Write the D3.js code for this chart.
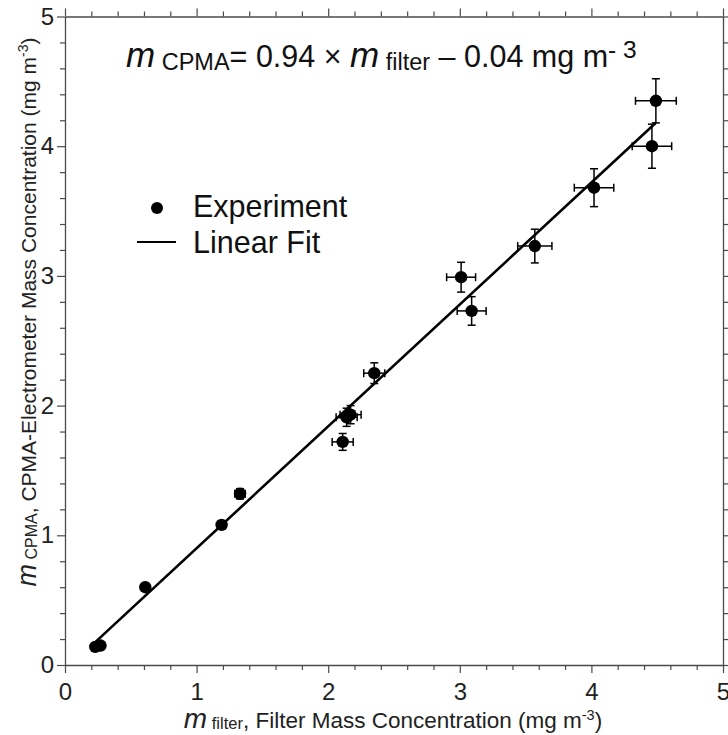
<!DOCTYPE html>
<html>
<head>
<meta charset="utf-8">
<script src="https://cdn.jsdelivr.net/npm/d3@7"></script>
<style>
  body { margin: 0; background: #fff; }
  svg { display: block; font-family: "Liberation Sans", Arial, sans-serif; }
</style>
</head>
<body>
<div id="chart"></div>
<script>
const xFilter = [0.23, 0.27, 0.61, 1.19, 1.33, 2.11, 2.14, 2.17, 2.35, 3.01, 3.09, 3.57, 4.02, 4.46, 4.49];
const yCpma   = [0.14, 0.15, 0.60, 1.08, 1.32, 1.72, 1.91, 1.93, 2.25, 2.99, 2.73, 3.23, 3.68, 4.00, 4.35];
const xErr    = [0.01, 0.01, 0.02, 0.03, 0.04, 0.08, 0.08, 0.08, 0.08, 0.11, 0.11, 0.13, 0.15, 0.15, 0.155];
const yErr    = [0.01, 0.01, 0.02, 0.03, 0.04, 0.065, 0.07, 0.07, 0.08, 0.115, 0.11, 0.13, 0.146, 0.17, 0.17];

// linear fit
const fitSlope = 0.94;
const fitIntercept = -0.04;
const fitRange = [0.23, 4.49];

const majorTicks = [0, 1, 2, 3, 4, 5];

const W = 728, H = 735;
const plot = { left: 65, right: 723, top: 16.5, bottom: 665 };
const axisColor = "#4a4a4a";
const textColor = "#222";

const x = d3.scaleLinear().domain([0, 5]).range([plot.left, plot.right]);
const y = d3.scaleLinear().domain([0, 5]).range([plot.bottom, plot.top]);

const svg = d3.select("#chart").append("svg")
    .attr("width", W)
    .attr("height", H);

const minorTicks = d3.range(0, 5.001, 0.2).filter(v => Math.abs(v - Math.round(v)) > 1e-6);

// axes: bottom & left labelled, top & right ticks only
function frameAxis(axisGen, transform, labels) {
  const g = svg.append("g").attr("transform", transform);
  g.call(axisGen.tickValues(majorTicks).tickSize(8).tickSizeOuter(0).tickFormat(labels ? d3.format("d") : ""));
  g.select(".domain").attr("stroke", axisColor).attr("stroke-width", 1.3);
  g.selectAll(".tick line").attr("stroke", axisColor).attr("stroke-width", 1.2);
  g.selectAll(".tick text").attr("fill", textColor).style("font-size", "24px");
  return g;
}
function minorAxis(axisGen, transform) {
  const g = svg.append("g").attr("transform", transform);
  g.call(axisGen.tickValues(minorTicks).tickSize(5).tickSizeOuter(0).tickFormat(""));
  g.select(".domain").remove();
  g.selectAll(".tick line").attr("stroke", axisColor).attr("stroke-width", 1.2);
}

const xb = frameAxis(d3.axisBottom(x), `translate(0,${plot.bottom})`, true);
xb.selectAll(".tick text").attr("dy", "0.98em");
minorAxis(d3.axisBottom(x), `translate(0,${plot.bottom})`);
frameAxis(d3.axisLeft(y), `translate(${plot.left},0)`, true);
minorAxis(d3.axisLeft(y), `translate(${plot.left},0)`);
frameAxis(d3.axisTop(x), `translate(0,${plot.top})`, false);
minorAxis(d3.axisTop(x), `translate(0,${plot.top})`);
frameAxis(d3.axisRight(y), `translate(${plot.right},0)`, false);
minorAxis(d3.axisRight(y), `translate(${plot.right},0)`);

// fit line
const fitLine = d3.line().x(d => x(d)).y(d => y(fitSlope * d + fitIntercept));
svg.append("path")
    .attr("d", fitLine(fitRange))
    .attr("fill", "none")
    .attr("stroke", "#000")
    .attr("stroke-width", 2.6);

// error bars
const pts = xFilter.map((v, i) => ({ x: v, y: yCpma[i], ex: xErr[i], ey: yErr[i] }));
const cap = 4;
const eb = svg.append("g").attr("stroke", "#000").attr("stroke-width", 1.5);
pts.forEach(p => {
  const cx = x(p.x), cy = y(p.y);
  const x0 = x(p.x - p.ex), x1 = x(p.x + p.ex);
  const y0 = y(p.y - p.ey), y1 = y(p.y + p.ey);
  eb.append("line").attr("x1", x0).attr("x2", x1).attr("y1", cy).attr("y2", cy);
  eb.append("line").attr("x1", x0).attr("x2", x0).attr("y1", cy - cap).attr("y2", cy + cap);
  eb.append("line").attr("x1", x1).attr("x2", x1).attr("y1", cy - cap).attr("y2", cy + cap);
  eb.append("line").attr("x1", cx).attr("x2", cx).attr("y1", y0).attr("y2", y1);
  eb.append("line").attr("x1", cx - cap).attr("x2", cx + cap).attr("y1", y0).attr("y2", y0);
  eb.append("line").attr("x1", cx - cap).attr("x2", cx + cap).attr("y1", y1).attr("y2", y1);
});

// points
svg.append("g").selectAll("circle")
  .data(pts)
  .enter().append("circle")
    .attr("cx", d => x(d.x))
    .attr("cy", d => y(d.y))
    .attr("r", 6.2)
    .attr("fill", "#000");

// equation
const eq = svg.append("text")
    .attr("x", 126).attr("y", 67)
    .attr("fill", "#111")
    .style("font-size", "30.5px");
eq.append("tspan").style("font-style", "italic").style("font-size", "35px").text("m");
eq.append("tspan").style("font-size", "23.5px").attr("dy", 3).text(" CPMA");
eq.append("tspan").attr("dy", -3).text("= 0.94 × ");
eq.append("tspan").style("font-style", "italic").style("font-size", "35px").text("m");
eq.append("tspan").style("font-size", "23.5px").attr("dy", 3).text(" filter");
eq.append("tspan").attr("dy", -3).text(" – 0.04 mg m");
eq.append("tspan").style("font-size", "24.5px").attr("dy", -9).text("- 3");

// legend
const lg = svg.append("g");
lg.append("circle").attr("cx", 157).attr("cy", 208).attr("r", 6).attr("fill", "#000");
lg.append("text").attr("x", 193).attr("y", 217).attr("fill", "#111").style("font-size", "30.5px").text("Experiment");
lg.append("line").attr("x1", 137).attr("x2", 176).attr("y1", 242).attr("y2", 242)
    .attr("stroke", "#000").attr("stroke-width", 2);
lg.append("text").attr("x", 193).attr("y", 253).attr("fill", "#111").style("font-size", "30.5px").text("Linear Fit");

// x axis title
const xt = svg.append("text")
    .attr("x", 393).attr("y", 728)
    .attr("text-anchor", "middle")
    .attr("fill", textColor)
    .style("font-size", "22.5px");
xt.append("tspan").style("font-style", "italic").style("font-size", "28px").text("m");
xt.append("tspan").style("font-size", "16.5px").attr("dy", 1).text(" filter");
xt.append("tspan").attr("dy", -1).text(", Filter Mass Concentration (mg m");
xt.append("tspan").style("font-size", "14.5px").attr("dy", -8).text("-3");
xt.append("tspan").attr("dy", 8).text(")");

// y axis title
const yt = svg.append("text")
    .attr("transform", "translate(36,312) rotate(-90)")
    .attr("text-anchor", "middle")
    .attr("fill", textColor)
    .style("font-size", "21px");
yt.append("tspan").style("font-style", "italic").style("font-size", "27px").text("m");
yt.append("tspan").style("font-size", "16px").attr("dy", 1).text(" CPMA");
yt.append("tspan").attr("dy", -1).text(", CPMA-Electrometer Mass Concentration (mg m");
yt.append("tspan").style("font-size", "14px").attr("dy", -8).text("-3");
yt.append("tspan").attr("dy", 8).text(")");
</script>
</body>
</html>
